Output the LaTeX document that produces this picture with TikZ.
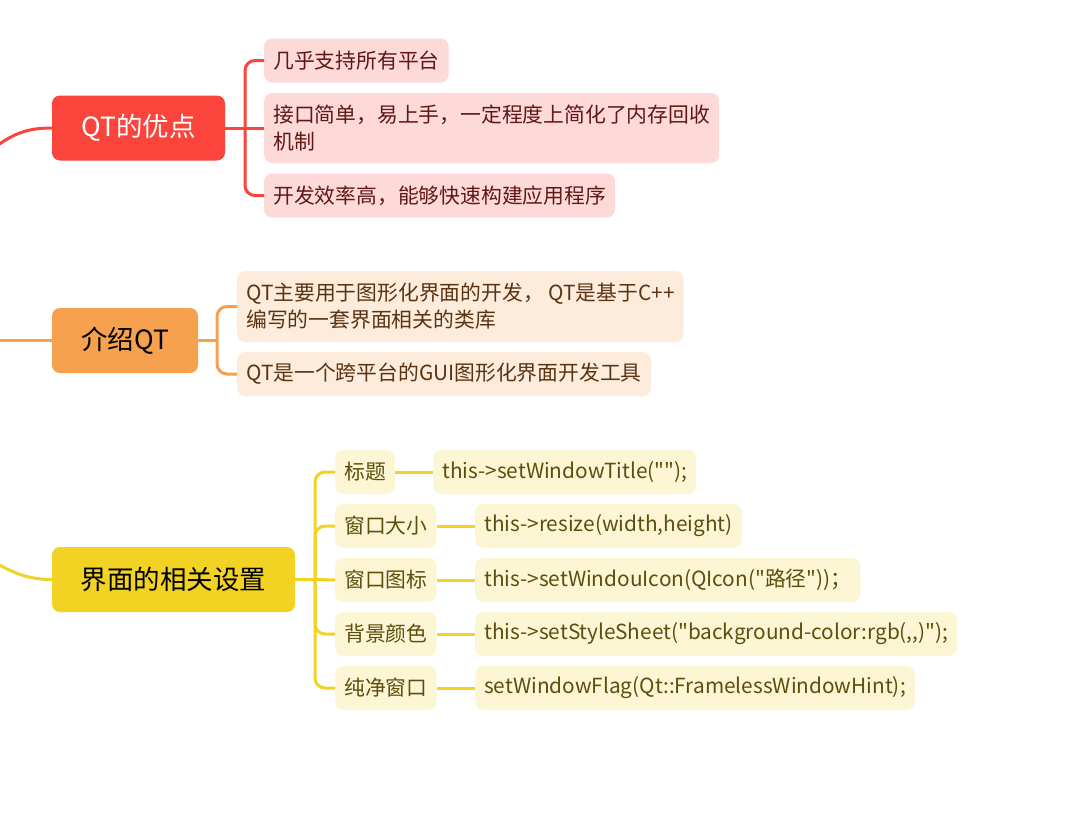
\documentclass[tikz,border=0pt]{standalone}
\usepackage{fontspec}
\newfontfamily\nf{Noto Sans CJK SC}
\definecolor{redM}{RGB}{250,68,60}
\definecolor{redL}{RGB}{253,217,216}
\definecolor{redT}{RGB}{96,24,20}
\definecolor{oraM}{RGB}{245,161,78}
\definecolor{oraL}{RGB}{253,235,220}
\definecolor{oraT}{RGB}{90,52,18}
\definecolor{yelM}{RGB}{242,211,36}
\definecolor{yelL}{RGB}{253,246,212}
\definecolor{yelT}{RGB}{92,78,14}
\tikzset{
  mainbox/.style={rounded corners=8pt, minimum height=65pt, inner sep=0pt,
    font=\nf\fontsize{26.5}{30}\selectfont},
  sub/.style={rounded corners=8pt, minimum height=44pt, inner xsep=9pt, inner ysep=4pt,
    anchor=west, align=left, font=\nf\fontsize{20.8}{27}\selectfont},
  link/.style={line width=3pt, rounded corners=10pt},
}
\begin{document}
\begin{tikzpicture}[x=1pt,y=-1pt]
\useasboundingbox[fill=white] (0,0) rectangle (1076,823);

% ---------- red branch ----------
\node[mainbox, fill=redM, text=white, minimum width=173pt] (rm) at (138.5,128) {QT的优点};
\node[sub, fill=redL, text=redT] (r1) at (264,60.5) {几乎支持所有平台};
\node[sub, fill=redL, text=redT, minimum height=70pt] (r2) at (264,128) {接口简单，易上手，一定程度上简化了内存回收\\机制};
\node[sub, fill=redL, text=redT] (r3) at (264,195.5) {开发效率高，能够快速构建应用程序};
\coordinate (rs) at (-6,148);
\coordinate (rb) at (245,128);
\draw[link, redM] (rs) .. controls (15,132) and (30,128) .. (rm.west);
\draw[link, redM] (rm.east) -- (rb);
\draw[link, redM] (rb) |- (r1.west);
\draw[link, redM] (rb) -- (r2.west);
\draw[link, redM] (rb) |- (r3.west);

% ---------- orange branch ----------
\node[mainbox, fill=oraM, text=black, minimum width=146pt] (om) at (125,340.5) {介绍QT};
\node[sub, fill=oraL, text=oraT, minimum height=71pt] (o1) at (237,306.5) {QT主要用于图形化界面的开发， QT是基于C++\\编写的一套界面相关的类库};
\node[sub, fill=oraL, text=oraT] (o2) at (237,374) {QT是一个跨平台的GUI图形化界面开发工具};
\coordinate (os) at (0,340.5);
\coordinate (ob) at (217,340.5);
\draw[link, oraM] (os) -- (om.west);
\draw[link, oraM] (om.east) -- (ob);
\draw[link, oraM] (ob) |- (o1.west);
\draw[link, oraM] (ob) |- (o2.west);

% ---------- yellow branch ----------
\node[mainbox, fill=yelM, text=black, minimum width=243pt] (ym) at (173.5,579.5) {界面的相关设置};
\node[sub, fill=yelL, text=yelT] (y1) at (335,472) {标题};
\node[sub, fill=yelL, text=yelT] (y2) at (335,526) {窗口大小};
\node[sub, fill=yelL, text=yelT] (y3) at (335,580) {窗口图标};
\node[sub, fill=yelL, text=yelT] (y4) at (335,634) {背景颜色};
\node[sub, fill=yelL, text=yelT] (y5) at (335,688) {纯净窗口};
\node[sub, fill=yelL, text=yelT] (z1) at (433,472) {this->setWindowTitle("");};
\node[sub, fill=yelL, text=yelT] (z2) at (475,526) {this->resize(width,height)};
\node[sub, fill=yelL, text=yelT] (z3) at (475,580) {this->setWindouIcon(QIcon("路径"))；};
\node[sub, fill=yelL, text=yelT] (z4) at (475,634) {this->setStyleSheet("background-color:rgb(,,)");};
\node[sub, fill=yelL, text=yelT] (z5) at (475,688) {setWindowFlag(Qt::FramelessWindowHint);};
\coordinate (ys) at (-6,562);
\coordinate (yb) at (315,579.5);
\draw[link, yelM] (ys) .. controls (15,574) and (30,579.5) .. (ym.west);
\draw[link, yelM] (ym.east) -- (yb);
\draw[link, yelM] (yb) |- (y1.west);
\draw[link, yelM] (yb) |- (y2.west);
\draw[link, yelM] (yb) -- (y3.west);
\draw[link, yelM] (yb) |- (y4.west);
\draw[link, yelM] (yb) |- (y5.west);
\draw[link, yelM] (y1.east) -- (z1.west);
\draw[link, yelM] (y2.east) -- (z2.west);
\draw[link, yelM] (y3.east) -- (z3.west);
\draw[link, yelM] (y4.east) -- (z4.west);
\draw[link, yelM] (y5.east) -- (z5.west);
\end{tikzpicture}
\end{document}
